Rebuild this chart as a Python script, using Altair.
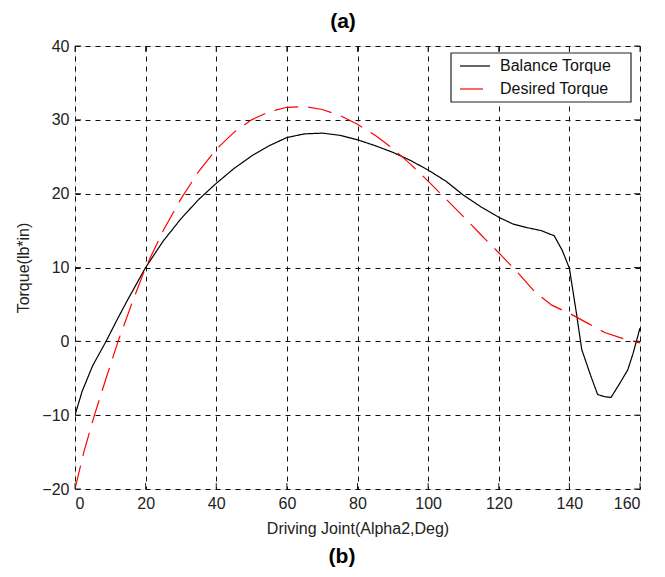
import altair as alt
import pandas as pd

# ---- data ----
x_balance = [0, 2, 5, 8.8, 12, 15, 20, 25, 30, 35, 40, 45, 50, 55, 60, 65, 70, 75, 80, 85,
             90, 95, 100, 105, 110, 115, 120, 124, 128, 132, 135.7, 138, 140, 142, 143.5,
             146, 148, 150, 151.8, 154, 156.5, 158, 160]
y_balance = [-10, -6.8, -3.3, 0, 3, 5.7, 10, 13.6, 16.6, 19.2, 21.4, 23.4, 25.1, 26.5, 27.6,
             28.1, 28.2, 27.9, 27.3, 26.5, 25.6, 24.5, 23.2, 21.7, 19.8, 18.2, 16.8, 15.9,
             15.4, 15.0, 14.3, 12.3, 9.9, 3.8, -1.1, -4.6, -7.2, -7.5, -7.6, -5.9, -3.9,
             -1.7, 1.8]

x_desired = [0, 2.5, 5.5, 8.8, 12.2, 16, 20, 25, 30, 35, 40, 45, 50, 55, 60, 65, 70, 75, 80,
             85, 90, 95, 100, 105, 110, 115, 120, 125, 130, 135, 140, 145, 150, 155, 160]
y_desired = [-20, -15, -10, -5, 0, 5, 10, 15, 19.3, 23, 26, 28.3, 30, 31.1, 31.7, 31.8, 31.4,
             30.6, 29.4, 27.9, 26.1, 24, 21.7, 19.3, 16.9, 14.4, 12, 9.5, 6.8, 4.9, 3.8, 2.5,
             1.2, 0.4, -0.2]

series_names = ["Balance Torque", "Desired Torque"]
series_colors = ["#000000", "#ff0000"]
x_ticks = [0, 20, 40, 60, 80, 100, 120, 140, 160]
y_ticks = [-20, -10, 0, 10, 20, 30, 40]

FONT = "Liberation Sans"
FS = 16
W, H = 565, 443

df = pd.concat([
    pd.DataFrame({"x": x_balance, "y": y_balance, "series": series_names[0], "o": range(len(x_balance))}),
    pd.DataFrame({"x": x_desired, "y": y_desired, "series": series_names[1], "o": range(len(x_desired))}),
])
dfx = pd.DataFrame({"t": x_ticks})
dfy = pd.DataFrame({"t": y_ticks})

xscale = alt.Scale(domain=[0, 160], nice=False)
yscale = alt.Scale(domain=[-20, 40], nice=False)

axis_common = dict(
    grid=True, gridDash=[5, 5], gridColor="#111", gridWidth=1, domain=False, ticks=False,
    labelFont=FONT, labelFontSize=FS, labelColor="#222", labelPadding=6,
    titleFont=FONT, titleFontSize=FS, titleFontWeight="normal", titleColor="#222",
)

lines = alt.Chart(df).mark_line(strokeWidth=1.2, clip=True).encode(
    x=alt.X("x:Q", scale=xscale, axis=alt.Axis(
        values=x_ticks, title="Driving Joint(Alpha2,Deg)", titlePadding=9, **axis_common)),
    y=alt.Y("y:Q", scale=yscale, axis=alt.Axis(
        values=y_ticks, title="Torque(lb*in)", titlePadding=10, **axis_common)),
    color=alt.Color("series:N", scale=alt.Scale(domain=series_names, range=series_colors),
                    legend=None),
    strokeDash=alt.StrokeDash("series:N", scale=alt.Scale(domain=series_names, range=[[1, 0], [24, 10]]),
                              legend=None),
    order="o:Q",
)

tick_top = alt.Chart(dfx).mark_rule(color="#222").encode(
    x=alt.X("t:Q", scale=xscale), y=alt.value(0), y2=alt.value(6))
tick_bot = alt.Chart(dfx).mark_rule(color="#222").encode(
    x=alt.X("t:Q", scale=xscale), y=alt.value(H), y2=alt.value(H - 6))
tick_left = alt.Chart(dfy).mark_rule(color="#222").encode(
    y=alt.Y("t:Q", scale=yscale), x=alt.value(0), x2=alt.value(6))
tick_right = alt.Chart(dfy).mark_rule(color="#222").encode(
    y=alt.Y("t:Q", scale=yscale), x=alt.value(W), x2=alt.value(W - 6))

# ---- legend box (drawn as a small layered legend) ----
leg_df = pd.DataFrame({"series": series_names, "color": series_colors})
leg_box = alt.Chart(pd.DataFrame({"a": [0]})).mark_rect(
    fill="white", stroke="#222", strokeWidth=1.2
).encode(x=alt.value(376), x2=alt.value(556), y=alt.value(7), y2=alt.value(56))
leg_line1 = alt.Chart(leg_df.iloc[[0]]).mark_rule(color=series_colors[0], strokeWidth=1.2).encode(
    x=alt.value(385), x2=alt.value(415), y=alt.value(20))
leg_line2 = alt.Chart(leg_df.iloc[[1]]).mark_rule(color=series_colors[1], strokeWidth=1.2).encode(
    x=alt.value(385), x2=alt.value(408), y=alt.value(43))
leg_text1 = alt.Chart(leg_df.iloc[[0]]).mark_text(
    font=FONT, fontSize=FS, color="#111", align="left", baseline="middle"
).encode(x=alt.value(425), y=alt.value(20), text="series:N")
leg_text2 = alt.Chart(leg_df.iloc[[1]]).mark_text(
    font=FONT, fontSize=FS, color="#111", align="left", baseline="middle"
).encode(x=alt.value(425), y=alt.value(43), text="series:N")

label_b = alt.Chart(pd.DataFrame({"t": ["(b)"]})).mark_text(
    font=FONT, fontSize=21, fontWeight="bold", color="#000", align="center", baseline="middle"
).encode(x=alt.value(267), y=alt.value(511), text="t:N")

title_a = alt.Chart(pd.DataFrame({"t": ["(a)"]})).mark_text(
    font=FONT, fontSize=21, fontWeight="bold", color="#000", align="center", baseline="middle"
).encode(x=alt.value(268), y=alt.value(-24), text="t:N")

chart = alt.layer(
    lines, tick_top, tick_bot, tick_left, tick_right,
    leg_box, leg_line1, leg_line2, leg_text1, leg_text2, label_b, title_a
).properties(
    width=W, height=H,
    autosize=alt.AutoSizeParams(type="none"),
    padding={"left": 67, "top": 38, "right": 17, "bottom": 80},
).configure_view(stroke="#222", strokeWidth=1.2).configure(background="white")

chart.save("out.html", embed_options={"renderer": "svg", "actions": False})
